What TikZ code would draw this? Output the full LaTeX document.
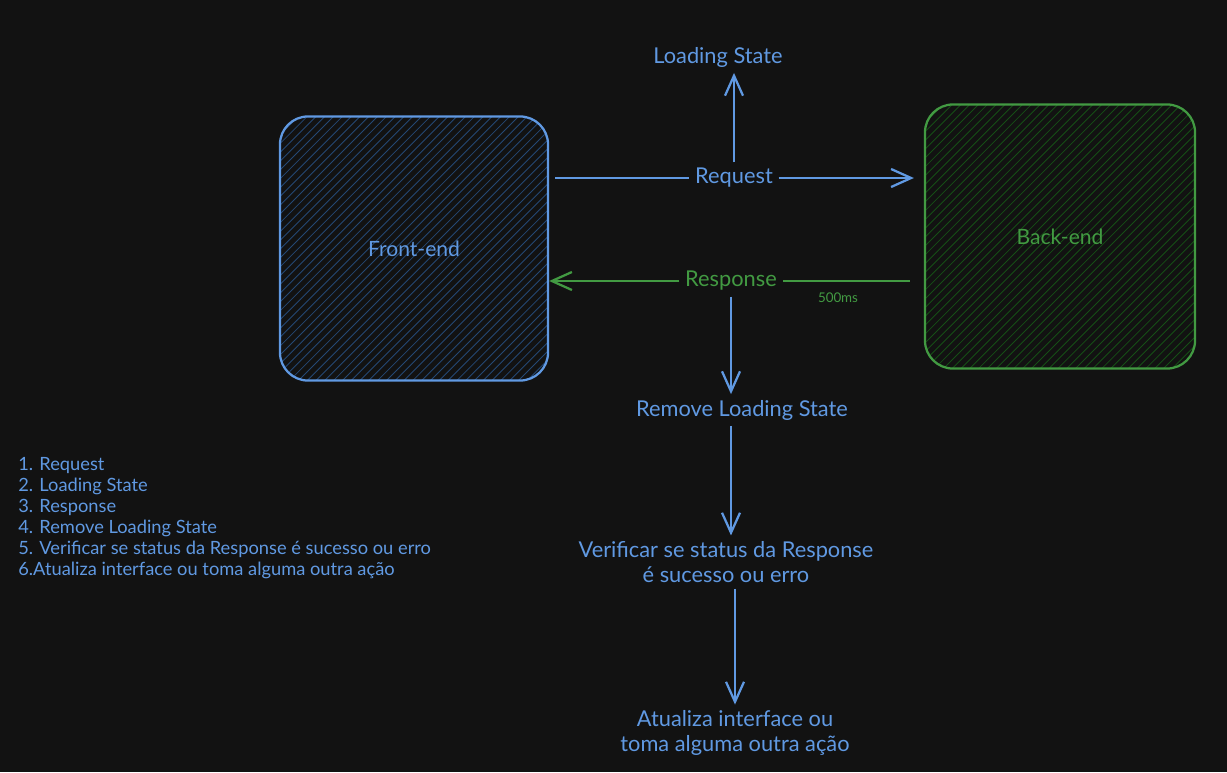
\documentclass[tikz,border=0pt]{standalone}
\usepackage{fontspec}
\setmainfont{Lato}
\usetikzlibrary{arrows.meta}
\definecolor{bg}{RGB}{18,18,18}
\definecolor{lblue}{RGB}{96,153,226}
\definecolor{hblue}{RGB}{36,72,116}
\definecolor{lgreen}{RGB}{66,154,66}
\definecolor{hgreen}{RGB}{22,78,22}
\begin{document}
\begin{tikzpicture}[x=0.025cm, y=-0.025cm,
	lbl/.style={font=\fontsize{15.5}{17.8}\selectfont, align=center, inner sep=4pt},
	boxfe/.style={draw=lblue, line width=1.6pt, rounded corners=0.7cm, minimum width=6.7cm, minimum height=6.6cm, text=lblue, font=\fontsize{15}{17}\selectfont,
		path picture={\foreach \k in {0,...,62} \draw[hblue, line width=0.6pt] ([xshift=\k*0.22cm-6.8cm]path picture bounding box.south west) -- ++(8cm,8cm);}},
	boxbe/.style={draw=lgreen, line width=1.6pt, rounded corners=0.7cm, minimum width=6.75cm, minimum height=6.6cm, text=lgreen, font=\fontsize{15}{17}\selectfont,
		path picture={\foreach \k in {0,...,62} \draw[hgreen, line width=0.6pt] ([xshift=\k*0.22cm-6.8cm]path picture bounding box.south west) -- ++(8cm,8cm);}},
	arr/.style={line width=1.6pt, -{Straight Barb[length=5mm, width=4.5mm]}},
	ln/.style={line width=1.6pt}]
	\fill[bg] (0,0) rectangle (1227,772);
	\useasboundingbox (0,0) rectangle (1227,772);
	\node[boxfe] (0) at (414, 248.5) {Front-end};
	\node[boxbe] (1) at (1060, 236.5) {Back-end};
	\node[lbl, text=lblue] (2) at (718, 57) {Loading State};
	\node[lbl, text=lblue] (3) at (734, 178) {Request};
	\node[lbl, text=lgreen] (4) at (731, 281) {Response};
	\node[text=lgreen, font=\fontsize{9.5}{11}\selectfont] (5) at (838, 298) {500ms};
	\node[lbl, text=lblue] (6) at (742, 410) {Remove Loading State};
	\node[lbl, text=lblue] (7) at (726, 562) {Verificar se status da Response\\é sucesso ou erro};
	\node[lbl, text=lblue] (8) at (735, 733) {Atualiza interface ou\\toma alguma outra ação};
	\node[text=lblue, font=\fontsize{13}{14.9}\selectfont, align=left, anchor=north west, inner sep=0pt] (9) at (18, 457) {1. Request\\2. Loading State\\3. Response\\4. Remove Loading State\\5. Verificar se status da Response é sucesso ou erro\\6.Atualiza interface ou toma alguma outra ação};
	\draw[ln, lblue, shorten <=0.15cm] (0.east |- 3) to (3);
	\draw[arr, lblue, shorten >=0.25cm] (3) to (1.west |- 3);
	\draw[arr, lblue] (3.north) to (3.north |- 2.south);
	\draw[ln, lgreen, shorten <=0.35cm] (1.west |- 4) to (4);
	\draw[arr, lgreen] (4) to (0.east |- 4);
	\draw[arr, lblue] (4.south) to (4.south |- 6.north);
	\draw[arr, lblue] (6.south -| 4) to (4 |- 7.north);
	\draw[arr, lblue] (7.south -| 8) to (8.north);
\end{tikzpicture}
\end{document}
